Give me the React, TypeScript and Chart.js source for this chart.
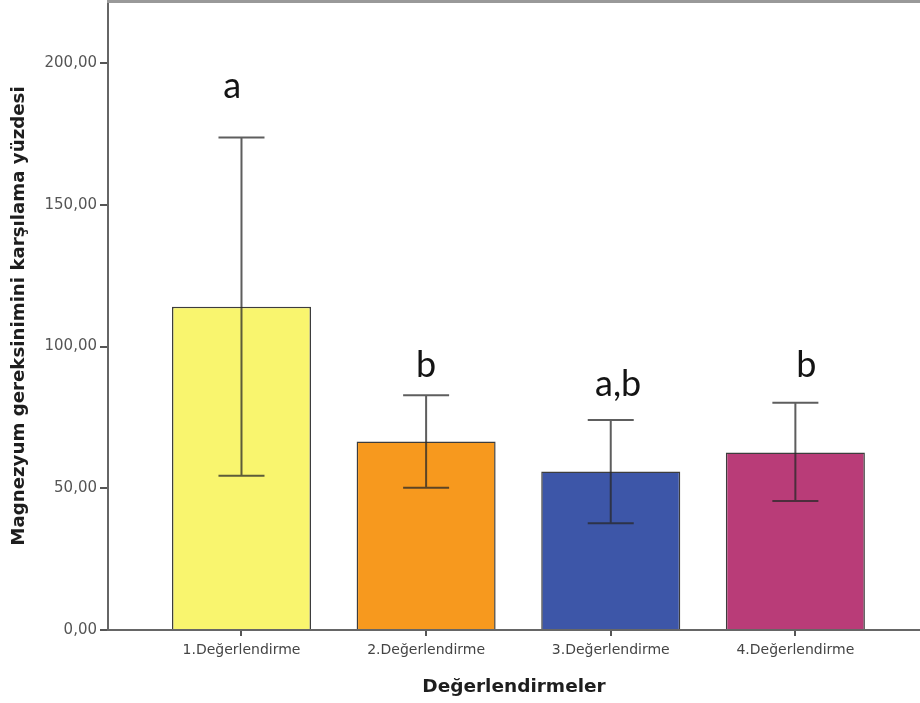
import React, { useEffect, useRef } from "react";
import { Chart, registerables } from "chart.js";

Chart.register(...registerables);

const categories = ["1.Değerlendirme", "2.Değerlendirme", "3.Değerlendirme", "4.Değerlendirme"];
const categoryPositions = [1, 2, 3, 4];
const means = [114.1, 66.5, 55.9, 62.6];
const errLow = [54.4, 50.2, 37.7, 45.5];
const errHigh = [173.8, 82.8, 74.1, 80.2];
const groupLetters = ["a", "b", "a,b", "b"];
const letterX = [0.95, 2.0, 3.04, 4.06];
const letterY = [191.8, 93.5, 86.5, 93.5];
const yTicks = [0, 50, 100, 150, 200];
const yMax = 221.6;
const xMin = 0.277;
const xMax = 4.675;
const barColors = ["#F9F56E", "#F7991E", "#3D56A8", "#B93C78"];

const fmt = (v: number) => v.toFixed(2).replace(".", ",");

export default function App() {
  const ref = useRef<HTMLCanvasElement | null>(null);

  useEffect(() => {
    if (!ref.current) return;

    const overlay = {
      id: "overlay",
      afterDatasetsDraw(chart: any) {
        const { ctx, scales, chartArea } = chart;
        const xs = scales.x;
        const ys = scales.y;
        ctx.save();
        ctx.strokeStyle = "rgba(40,40,40,0.75)";
        ctx.lineWidth = 2;
        for (let i = 0; i < means.length; i++) {
          const px = xs.getPixelForValue(categoryPositions[i]);
          const yl = ys.getPixelForValue(errLow[i]);
          const yh = ys.getPixelForValue(errHigh[i]);
          const cap = 23;
          ctx.beginPath();
          ctx.moveTo(px, yl);
          ctx.lineTo(px, yh);
          ctx.moveTo(px - cap, yh);
          ctx.lineTo(px + cap, yh);
          ctx.moveTo(px - cap, yl);
          ctx.lineTo(px + cap, yl);
          ctx.stroke();
        }
        ctx.fillStyle = "#141414";
        ctx.font = "36px Lato";
        ctx.textAlign = "center";
        ctx.textBaseline = "middle";
        for (let i = 0; i < groupLetters.length; i++) {
          ctx.fillText(groupLetters[i], xs.getPixelForValue(letterX[i]), ys.getPixelForValue(letterY[i]));
        }
        ctx.strokeStyle = "#999";
        ctx.lineWidth = 3;
        ctx.beginPath();
        ctx.moveTo(chartArea.left - 1, 1.5);
        ctx.lineTo(chartArea.right, 1.5);
        ctx.stroke();
        ctx.restore();
      },
    };

    const chart = new Chart(ref.current, {
      type: "bar",
      data: {
        datasets: [
          {
            data: means.map((m, i) => ({ x: categoryPositions[i], y: m })),
            backgroundColor: barColors,
            borderColor: "rgba(40,40,40,0.9)",
            borderWidth: 1.5,
            categoryPercentage: 1,
            barPercentage: 0.753,
          },
        ],
      },
      options: {
        responsive: false,
        animation: false,
        layout: { padding: { top: 2, right: 0, left: 0, bottom: 0 } },
        plugins: { legend: { display: false }, tooltip: { enabled: false } },
        scales: {
          x: {
            type: "linear",
            min: xMin,
            max: xMax,
            offset: false,
            grid: { display: true, offset: false, drawOnChartArea: false, drawTicks: true, tickLength: 6, tickColor: "#555", lineWidth: 2 },
            border: { display: true, color: "#666", width: 2 },
            afterFit: (s: any) => { s.height = 73; s.paddingLeft = 0; s.paddingRight = 0; },
            afterBuildTicks: (s: any) => { s.ticks = categoryPositions.map((v) => ({ value: v })); },
            ticks: {
              autoSkip: false,
              maxRotation: 0,
              includeBounds: false,
              padding: 6,
              color: "#444",
              font: { family: "DejaVu Sans", size: 14 },
              callback: (v: any) => categories[categoryPositions.indexOf(Number(v))] ?? "",
            },
            title: {
              display: true,
              text: "Değerlendirmeler",
              color: "#1e1e1e",
              font: { family: "DejaVu Sans", size: 18.5, weight: "bold" },
              padding: { top: 0, bottom: 5 },
            },
          },
          y: {
            min: 0,
            max: yMax,
            grid: { display: true, drawOnChartArea: false, drawTicks: true, tickLength: 8, tickColor: "#555", lineWidth: 2 },
            border: { display: true, color: "#666", width: 2 },
            afterFit: (s: any) => { s.width = 108; s.paddingTop = 0; s.paddingBottom = 0; },
            afterBuildTicks: (s: any) => { s.ticks = yTicks.map((v) => ({ value: v })); },
            ticks: {
              includeBounds: false,
              padding: 3,
              color: "#555",
              font: { family: "DejaVu Sans", size: 15 },
              callback: (v: any) => fmt(Number(v)),
            },
            title: {
              display: true,
              text: "Magnezyum gereksinimini karşılama yüzdesi",
              color: "#1e1e1e",
              font: { family: "DejaVu Sans", size: 18.2, weight: "bold" },
              padding: { top: 8, bottom: 0 },
            },
          },
        },
      },
      plugins: [overlay],
    } as any);

    return () => chart.destroy();
  }, []);

  return (
    <div style={{ position: "absolute", left: 0, top: 0, width: 920, height: 703, background: "#fff" }}>
      <canvas ref={ref} width={920} height={703} style={{ display: "block" }} />
    </div>
  );
}
